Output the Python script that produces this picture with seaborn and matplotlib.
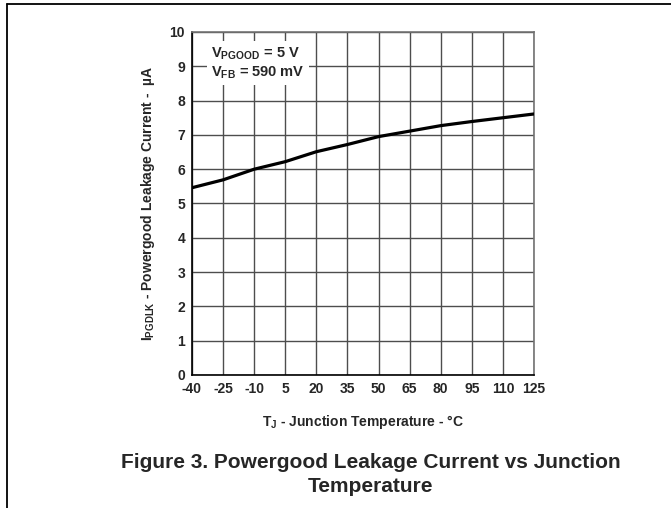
import pandas as pd
import matplotlib.pyplot as plt
from matplotlib.lines import Line2D
import seaborn as sns

# Leakage current
temps = [-40, -25, -10, 5, 20, 35, 50, 65, 80, 95, 110, 125]
leakage_ua = [5.46, 5.69, 6.0, 6.22, 6.51, 6.72, 6.95, 7.11, 7.27, 7.39, 7.50, 7.61]
x_ticks = [-40, -25, -10, 5, 20, 35, 50, 65, 80, 95, 110, 125]
y_ticks = [0, 1, 2, 3, 4, 5, 6, 7, 8, 9, 10]

df = pd.DataFrame({"temp": temps, "leak": leakage_ua})

sns.set_style("white")
plt.rcParams['font.family'] = ['Liberation Sans', 'DejaVu Sans']
plt.rcParams['font.weight'] = 'bold'
plt.rcParams['axes.unicode_minus'] = False
plt.rcParams['mathtext.fontset'] = 'custom'
plt.rcParams['mathtext.rm'] = 'Liberation Sans:bold'
plt.rcParams['mathtext.default'] = 'rm'

fig = plt.figure(figsize=(6.71, 5.08), dpi=100)
W, H = 671, 508
ax = fig.add_axes([192 / W, 1 - 375 / H, (534 - 192) / W, (375 - 32) / H])

sns.lineplot(data=df, x="temp", y="leak", ax=ax, color="black", linewidth=2.3, zorder=3)

ax.set_xlim(-40, 125)
ax.set_ylim(0, 10)
ax.set_xticks(x_ticks)
ax.set_yticks(y_ticks)
ax.grid(True, color="0.3", linewidth=1.0)
ax.tick_params(length=0, pad=5, labelsize=10)
for lbl in ax.get_xticklabels() + ax.get_yticklabels():
    lbl.set_fontweight('bold')
for side in ["left", "bottom"]:
    ax.spines[side].set_color("black")
    ax.spines[side].set_linewidth(1.2)
for side in ["top", "right"]:
    ax.spines[side].set_color("0.45")
    ax.spines[side].set_linewidth(1.2)

ax.set_xlabel(r"T$_{J}$ - Junction Temperature - °C", fontsize=10, fontweight='bold', labelpad=12)
ax.set_ylabel(r"I$_{PGDLK}$ - Powergood Leakage Current -  µA", fontsize=10, fontweight='bold', labelpad=9)

ax.text(-30.6, 9.6, "V$_{PGOOD}$ = 5 V\nV$_{FB}$ = 590 mV", fontsize=10.5, fontweight='bold',
        va="top", ha="left", linespacing=1.2, zorder=4,
        bbox=dict(facecolor="white", edgecolor="none", pad=3))

fig.text(371 / W, 1 - 463 / H, "Figure 3. Powergood Leakage Current vs Junction",
         ha="center", va="center", fontsize=15, fontweight='bold')
fig.text(371 / W, 1 - 486 / H, "Temperature",
         ha="center", va="center", fontsize=15, fontweight='bold')

# page frame lines
fig.add_artist(Line2D([7 / W, 1], [1 - 4 / H, 1 - 4 / H], color="black", linewidth=1.3))
fig.add_artist(Line2D([7 / W, 7 / W], [0, 1 - 4 / H], color="black", linewidth=1.3))

fig.savefig("out.png", dpi=100)
plt.close(fig)
